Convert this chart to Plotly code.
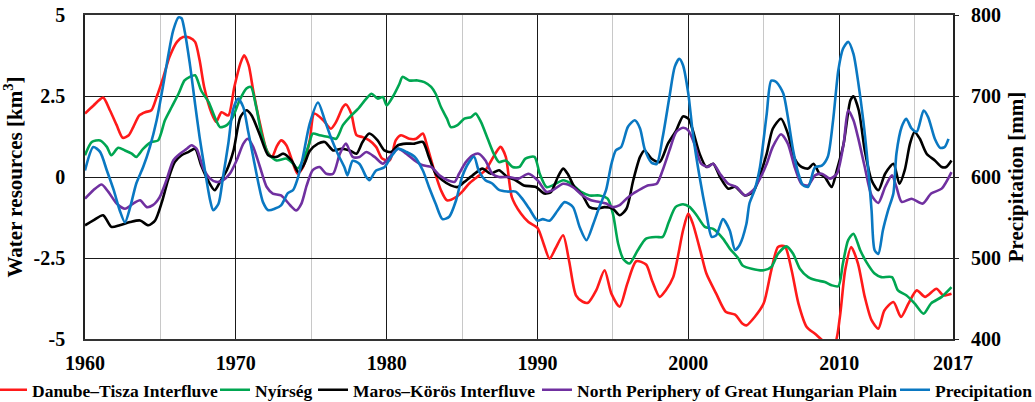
import plotly.graph_objects as go

# ---------------- data ----------------
dt_years = [1960.0, 1960.55, 1961.2, 1961.65, 1962.1, 1962.5, 1962.9, 1963.2, 1963.6, 1964.0, 1964.4, 1964.75,
            1965.2, 1965.6, 1966.1, 1966.5, 1966.95, 1967.3, 1967.6, 1967.9, 1968.4, 1968.7, 1969.05, 1969.5,
            1969.9, 1970.3, 1970.55, 1970.85, 1971.15, 1971.6, 1972.05, 1972.4, 1972.7, 1973.0, 1973.35, 1973.8,
            1974.1, 1974.45, 1974.9, 1975.2, 1975.8, 1976.3, 1976.65, 1977.1, 1977.3, 1977.65, 1978.0, 1978.4,
            1978.85, 1979.3, 1979.7, 1980.2, 1980.6, 1980.95, 1981.5, 1981.95, 1982.4, 1982.7, 1983.15, 1983.6,
            1984.0, 1984.6, 1985.0, 1985.45, 1986.0, 1986.55, 1987.2, 1987.55, 1987.9, 1988.3, 1988.9, 1989.4,
            1990.0, 1990.4, 1990.8, 1991.2, 1991.7, 1992.1, 1992.55, 1993.0, 1993.35, 1993.9, 1994.45, 1994.9,
            1995.45, 1995.95, 1996.55, 1997.2, 1997.6, 1998.1, 1998.5, 1999.0, 1999.65, 2000.0, 2000.3, 2000.85,
            2001.2, 2001.85, 2002.5, 2003.1, 2003.6, 2003.85, 2004.4, 2005.0, 2005.5, 2005.95, 2006.4, 2006.85,
            2007.3, 2007.85, 2008.4, 2009.05, 2009.7, 2010.05, 2010.4, 2010.8, 2011.25, 2011.7, 2012.15, 2012.6,
            2013.0, 2013.6, 2014.1, 2014.6, 2015.15, 2015.7, 2016.45, 2016.9, 2017.45]
dt_values = [1.96, 2.2, 2.45, 2.06, 1.6, 1.21, 1.29, 1.54, 1.9, 2.0, 2.06, 2.47,
             3.09, 3.7, 4.17, 4.32, 4.3, 4.17, 3.6, 2.78, 1.96, 1.7, 2.0, 1.9,
             2.78, 3.5, 3.76, 3.45, 2.68, 1.65, 0.82, 0.62, 0.93, 1.13, 0.98, 0.41,
             0.1, 0.3, 1.13, 1.96, 1.75, 1.49, 1.7, 2.16, 2.24, 1.96, 1.29, 1.23,
             1.13, 0.93, 0.57, 0.51, 1.13, 1.29, 1.18, 1.18, 1.34, 0.93, 0.21, -0.41,
             -0.72, -0.62, -0.46, -0.21, 0.0, 0.21, 0.72, 0.93, 0.62, -0.62, -1.13, -1.39,
             -1.57, -2.05, -2.52, -2.2, -1.8, -2.6, -3.65, -3.85, -3.88, -3.49, -2.88, -3.6,
             -4.0, -3.3, -2.6, -2.7, -3.2, -3.7, -3.5, -3.09, -1.65, -1.13, -1.44, -2.37,
             -2.98, -3.6, -4.17, -4.25, -4.53, -4.58, -4.32, -3.9, -2.88, -2.16, -2.14, -2.88,
             -3.9, -4.63, -4.84, -5.09, -5.14, -4.32, -2.88, -2.16, -2.67, -3.7, -4.42, -4.68,
             -4.12, -3.86, -4.32, -3.9, -3.5, -3.7, -3.45, -3.65, -3.6]

ny_years = [1960.0, 1960.45, 1961.0, 1961.45, 1961.75, 1962.2, 1962.65, 1963.1, 1963.4, 1963.85, 1964.4, 1964.85,
            1965.3, 1965.75, 1966.2, 1966.6, 1966.95, 1967.3, 1967.7, 1968.2, 1968.6, 1968.95, 1969.4, 1969.8,
            1970.25, 1970.7, 1971.0, 1971.35, 1971.7, 1972.15, 1972.7, 1973.35, 1973.8, 1974.1, 1974.55, 1974.85,
            1975.1, 1975.55, 1976.2, 1976.65, 1977.1, 1977.55, 1978.1, 1978.65, 1979.0, 1979.4, 1979.75, 1980.0,
            1980.4, 1980.85, 1981.05, 1981.5, 1982.05, 1982.5, 1982.95, 1983.25, 1983.6, 1984.0, 1984.25, 1984.7,
            1985.15, 1985.6, 1985.9, 1986.25, 1986.7, 1987.1, 1987.45, 1987.9, 1988.35, 1988.8, 1989.2, 1989.8,
            1990.15, 1990.6, 1991.0, 1991.7, 1992.25, 1992.9, 1993.45, 1994.1, 1994.65, 1995.0, 1995.35, 1995.7,
            1996.1, 1996.65, 1997.2, 1997.9, 1998.3, 1998.7, 1999.15, 1999.65, 2000.1, 2000.55, 2001.1, 2001.65,
            2002.3, 2002.75, 2003.3, 2003.6, 2004.2, 2005.0, 2005.5, 2005.95, 2006.5, 2006.95, 2007.4, 2007.95,
            2008.5, 2009.05, 2009.5, 2009.95, 2010.25, 2010.6, 2010.95, 2011.4, 2011.8, 2012.35, 2012.8, 2013.5,
            2013.9, 2014.45, 2015.0, 2015.6, 2016.1, 2016.8, 2017.45]
ny_values = [0.67, 1.08, 1.13, 0.93, 0.67, 0.9, 0.82, 0.72, 0.62, 0.87, 1.08, 1.13,
             1.75, 2.16, 2.57, 2.98, 3.09, 3.14, 2.67, 2.31, 1.85, 1.54, 1.6, 1.85,
             2.37, 2.73, 2.78, 2.16, 1.34, 0.72, 0.51, 0.57, 0.41, 0.26, 0.62, 1.0,
             1.34, 1.29, 1.23, 1.18, 1.6, 1.85, 2.1, 2.42, 2.57, 2.42, 2.47, 2.21,
             2.47, 2.88, 3.09, 2.98, 2.98, 2.93, 2.78, 2.57, 2.16, 1.8, 1.54, 1.6,
             1.8, 1.85, 1.96, 1.7, 1.18, 0.72, 0.46, 0.51, 0.31, 0.31, 0.57, 0.62,
             0.1, -0.31, -0.26, -0.1, -0.21, -0.46, -0.57, -0.57, -0.67, -1.13, -2.06, -2.54,
             -2.67, -2.26, -1.9, -1.85, -1.85, -1.4, -0.93, -0.84, -0.93, -1.18, -1.54, -1.6,
             -1.9, -2.21, -2.5, -2.73, -2.83, -2.88, -2.78, -2.37, -2.14, -2.37, -2.83, -3.09,
             -3.19, -3.24, -3.34, -3.37, -2.67, -1.95, -1.75, -2.26, -2.62, -2.98, -3.09, -3.09,
             -3.5, -3.65, -3.9, -4.22, -3.9, -3.7, -3.4]

mk_years = [1960.0, 1960.55, 1961.2, 1961.75, 1962.3, 1963.0, 1963.65, 1964.2, 1964.65, 1965.1, 1965.5, 1965.95,
            1966.4, 1966.85, 1967.3, 1967.7, 1968.15, 1968.6, 1968.95, 1969.4, 1969.85, 1970.3, 1970.7, 1971.05,
            1971.6, 1972.15, 1972.7, 1973.15, 1973.7, 1974.15, 1974.55, 1974.9, 1975.45, 1975.9, 1976.45, 1977.0,
            1977.55, 1978.0, 1978.4, 1978.85, 1979.4, 1979.85, 1980.3, 1980.75, 1981.3, 1981.85, 1982.4, 1982.8,
            1983.25, 1983.7, 1984.25, 1984.7, 1985.15, 1985.7, 1986.35, 1986.9, 1987.45, 1988.0, 1988.55, 1989.1,
            1989.9, 1990.45, 1990.9, 1991.35, 1991.7, 1992.0, 1992.45, 1993.0, 1993.45, 1993.9, 1994.45, 1995.0,
            1995.45, 1995.9, 1996.35, 1996.8, 1997.1, 1997.55, 1998.1, 1998.65, 1999.2, 1999.65, 2000.0, 2000.3,
            2000.75, 2001.2, 2001.65, 2002.1, 2002.65, 2003.1, 2003.75, 2004.3, 2004.75, 2005.2, 2005.6, 2006.15,
            2006.6, 2007.05, 2007.5, 2007.95, 2008.3, 2008.7, 2009.05, 2009.5, 2009.85, 2010.3, 2010.75, 2010.95,
            2011.3, 2011.7, 2012.15, 2012.6, 2013.05, 2013.6, 2014.0, 2014.35, 2014.7, 2015.0, 2015.35, 2015.8,
            2016.35, 2016.8, 2017.1, 2017.45]
mk_values = [-1.49, -1.34, -1.18, -1.54, -1.49, -1.39, -1.34, -1.49, -1.34, -0.77, -0.1, 0.46,
             0.67, 0.77, 0.87, 0.36, -0.1, -0.41, -0.15, 0.21, 0.82, 1.85, 2.06, 1.9,
             1.29, 0.67, 0.62, 0.72, 0.51, 0.15, 0.41, 0.8, 1.03, 1.08, 0.82, 0.87,
             0.82, 0.72, 1.08, 1.34, 1.13, 0.82, 0.77, 0.98, 1.03, 1.03, 1.08, 0.62,
             0.1, -0.1, -0.26, -0.31, -0.15, 0.05, 0.26, 0.1, 0.21, 0.0, -0.1, -0.26,
             -0.31, -0.51, -0.46, 0.0, 0.26, 0.1, -0.31, -0.57, -0.93, -0.98, -0.93, -0.98,
             -1.18, -0.98, -0.1, 0.62, 0.82, 0.57, 0.46, 1.03, 1.44, 1.87, 1.8, 1.44,
             0.72, 0.31, 0.41, 0.0, -0.36, -0.3, -0.57, -0.46, 0.05, 0.72, 1.49, 1.8,
             1.34, 0.57, 0.31, 0.26, 0.41, 0.1, 0.0, -0.31, 0.21, 1.03, 2.37, 2.49,
             2.06, 0.82, -0.1, -0.41, 0.1, 0.41, -0.21, 0.21, 1.03, 1.39, 1.18, 0.72,
             0.51, 0.31, 0.31, 0.51]

np_years = [1960.0, 1960.55, 1961.1, 1961.55, 1962.1, 1962.65, 1963.2, 1963.65, 1964.1, 1964.5, 1964.95, 1965.4,
            1965.85, 1966.3, 1966.75, 1967.05, 1967.4, 1967.85, 1968.3, 1968.7, 1969.15, 1969.6, 1970.05, 1970.5,
            1970.8, 1971.15, 1971.6, 1972.05, 1972.45, 1973.0, 1973.6, 1974.0, 1974.35, 1974.7, 1975.1, 1975.55,
            1976.0, 1976.45, 1976.9, 1977.3, 1977.75, 1978.2, 1978.65, 1979.2, 1979.75, 1980.2, 1980.75, 1981.3,
            1981.85, 1982.4, 1982.95, 1983.5, 1984.05, 1984.5, 1984.8, 1985.25, 1985.7, 1986.1, 1986.55, 1987.0,
            1987.45, 1988.1, 1988.75, 1989.4, 1990.0, 1990.6, 1991.0, 1991.7, 1992.35, 1993.0, 1993.55, 1994.1,
            1994.55, 1995.0, 1995.45, 1995.9, 1996.35, 1996.9, 1997.3, 1997.9, 1998.3, 1998.75, 1999.2, 1999.65,
            2000.0, 2000.4, 2000.85, 2001.3, 2001.65, 2002.1, 2002.65, 2003.2, 2003.75, 2004.3, 2004.75, 2005.2,
            2005.6, 2006.15, 2006.6, 2007.05, 2007.5, 2007.95, 2008.4, 2008.85, 2009.4, 2009.85, 2010.3, 2010.6,
            2010.95, 2011.25, 2011.7, 2012.15, 2012.6, 2013.05, 2013.5, 2013.8, 2014.15, 2014.8, 2015.55, 2016.1,
            2016.8, 2017.45]
np_values = [-0.67, -0.41, -0.23, -0.46, -0.82, -0.98, -0.82, -0.72, -0.93, -0.87, -0.62, -0.1,
             0.51, 0.72, 0.87, 0.98, 0.87, 0.26, -0.05, -0.15, -0.1, 0.1, 0.51, 1.03,
             1.18, 0.93, 0.31, -0.31, -0.51, -0.57, -0.87, -1.03, -0.82, -0.26, 0.21, 0.31,
             0.1, 0.1, 0.72, 1.03, 0.62, 0.62, 0.77, 0.62, 0.41, 0.62, 0.87, 0.72,
             0.51, 0.36, 0.31, 0.05, -0.1, -0.15, 0.1, 0.46, 0.67, 0.72, 0.51, 0.1,
             0.0, 0.0, -0.05, 0.1, -0.1, -0.46, -0.41, -0.21, -0.31, -0.57, -0.72, -0.77,
             -0.82, -0.93, -0.87, -0.67, -0.51, -0.36, -0.26, -0.21, 0.21, 0.82, 1.39, 1.52,
             1.44, 1.03, 0.41, 0.31, 0.41, 0.1, -0.21, -0.31, -0.57, -0.41, -0.05, 0.41,
             0.93, 1.32, 1.03, 0.31, -0.21, -0.26, 0.05, 0.1, -0.05, 0.1, 1.03, 2.06,
             1.75, 1.23, 0.31, -0.57, -0.8, -0.31, 0.05, -0.31, -0.77, -0.67, -0.82, -0.51,
             -0.36, 0.15]

pr_years = [1960.0, 1960.55, 1961.0, 1961.45, 1961.9, 1962.3, 1962.65, 1963.0, 1963.4, 1963.85, 1964.3, 1964.75,
            1965.2, 1965.5, 1965.85, 1966.2, 1966.4, 1966.6, 1966.95, 1967.3, 1967.6, 1967.95, 1968.3, 1968.5,
            1968.85, 1969.15, 1969.5, 1969.8, 1970.15, 1970.5, 1970.8, 1971.15, 1971.5, 1971.8, 1972.15, 1972.6,
            1973.0, 1973.45, 1973.8, 1974.1, 1974.45, 1974.9, 1975.45, 1975.9, 1976.3, 1976.75, 1977.2, 1977.4,
            1977.75, 1978.2, 1978.65, 1978.85, 1979.3, 1979.85, 1980.3, 1980.75, 1981.3, 1981.85, 1982.4, 1982.8,
            1983.25, 1983.7, 1984.15, 1984.6, 1985.0, 1985.45, 1985.8, 1986.1, 1986.55, 1987.0, 1987.45, 1988.0,
            1988.55, 1989.0, 1989.45, 1990.0, 1990.35, 1990.8, 1991.35, 1991.8, 1992.35, 1992.8, 1993.25, 1993.7,
            1994.1, 1994.55, 1994.9, 1995.2, 1995.55, 1996.0, 1996.45, 1996.8, 1997.1, 1997.55, 1997.9, 1998.3,
            1998.75, 1999.1, 1999.4, 1999.65, 2000.0, 2000.3, 2000.75, 2001.2, 2001.55, 2001.85, 2002.3, 2002.75,
            2003.1, 2003.4, 2003.85, 2004.05, 2004.4, 2004.75, 2005.2, 2005.5, 2005.85, 2006.3, 2006.6, 2006.95,
            2007.3, 2007.6, 2007.95, 2008.4, 2008.85, 2009.25, 2009.6, 2009.95, 2010.25, 2010.6, 2010.95, 2011.25,
            2011.6, 2011.9, 2012.15, 2012.35, 2012.6, 2012.9, 2013.25, 2013.6, 2013.8, 2014.15, 2014.45, 2014.8,
            2015.15, 2015.6, 2015.9, 2016.35, 2016.7, 2017.0, 2017.25]
pr_values = [608, 637, 631, 608, 584, 559, 544, 563, 592, 612, 637, 670,
             715, 748, 781, 797, 796, 781, 740, 690, 649, 608, 571, 559,
             567, 600, 641, 682, 697, 686, 658, 625, 592, 569, 559, 561,
             565, 580, 584, 598, 625, 666, 692, 670, 649, 629, 612, 602,
             620, 616, 600, 596, 608, 612, 625, 635, 631, 625, 608, 588,
             567, 548, 551, 571, 600, 618, 625, 608, 596, 592, 584, 582,
             582, 573, 561, 546, 548, 546, 559, 569, 563, 538, 522, 542,
             563, 584, 616, 633, 637, 662, 670, 660, 635, 618, 616, 649,
             699, 736, 746, 738, 703, 654, 600, 555, 526, 528, 548, 534,
             510, 516, 542, 567, 584, 612, 678, 719, 717, 703, 674, 633,
             604, 590, 588, 612, 614, 625, 670, 732, 758, 767, 752, 719,
             670, 616, 559, 510, 505, 534, 559, 580, 629, 662, 672, 660,
             656, 682, 674, 647, 636, 637, 647]

series_names = ["Danube\u2013Tisza Interfluve", "Ny\u00edrs\u00e9g", "Maros\u2013K\u00f6r\u00f6s Interfluve",
                "North Periphery of Great Hungarian Plain", "Precipitation"]
series_colors = ["#ff1a1a", "#00a651", "#000000", "#7030a0", "#0a78c2"]

x_tick_vals = [1960, 1970, 1980, 1990, 2000, 2010, 2017.55]
x_tick_text = ["1960", "1970", "1980", "1990", "2000", "2010", "2017"]
x_minor_vals = [1965, 1975, 1985, 1995, 2005, 2015]
y_tick_vals = [-5, -2.5, 0, 2.5, 5]
y_tick_text = ["-5", "-2.5", "0", "2.5", "5"]
y2_tick_vals = [400, 500, 600, 700, 800]

# ---------------- figure ----------------
FONT = "Liberation Serif"
tick_font = dict(family=FONT, size=20, color="black", weight="bold")
title_font = dict(family=FONT, size=21, color="black", weight="bold")

fig = go.Figure()
data = [(dt_years, dt_values, "y"), (ny_years, ny_values, "y"), (mk_years, mk_values, "y"),
        (np_years, np_values, "y"), (pr_years, pr_values, "y2")]
legend_ids = ["legend", "legend2", "legend3", "legend4", "legend5"]
for (xs, ys, ax), name, col, lg in zip(data, series_names, series_colors, legend_ids):
    fig.add_trace(go.Scatter(x=xs, y=ys, name=name, mode="lines", yaxis=ax, legend=lg,
                             line=dict(color=col, width=2.6, shape="spline", smoothing=0.7)))

legend_font = dict(family=FONT, size=17.5, color="black", weight="bold")
legend_x_px = [-8, 215, 313, 537, 895]
plot_l, plot_w = 85, 868
legends = {}
for lg, px in zip(legend_ids, legend_x_px):
    legends[lg] = dict(orientation="h", x=(px - plot_l) / plot_w, xanchor="left",
                       y=-0.157, yanchor="middle", font=legend_font,
                       bgcolor="rgba(0,0,0,0)", itemwidth=30, borderwidth=0)

fig.update_layout(
    width=1035, height=402,
    margin=dict(l=85, r=82, t=15, b=63, autoexpand=False),
    paper_bgcolor="white", plot_bgcolor="white",
    showlegend=True,
    xaxis=dict(range=[1960, 2017.55], tickmode="array", tickvals=x_tick_vals, ticktext=x_tick_text,
               showgrid=True, gridcolor="#1a1a1a", gridwidth=1,
               minor=dict(tickmode="array", tickvals=x_minor_vals, showgrid=True,
                          gridcolor="#c8c8c8", gridwidth=1, ticks=""),
               showline=True, linecolor="#333333", linewidth=1.5, mirror=True,
               ticks="", tickfont=tick_font, ticklabelstandoff=5, zeroline=False),
    yaxis=dict(range=[-5, 5], tickmode="array", tickvals=y_tick_vals, ticktext=y_tick_text,
               showgrid=True, gridcolor="#1a1a1a", gridwidth=1, zeroline=False,
               showline=True, linecolor="#222222", linewidth=1.5, mirror=True,
               ticks="", tickfont=tick_font, ticklabelstandoff=14,
               title=dict(text="Water resources [km<sup>3</sup>]", font=title_font, standoff=6)),
    yaxis2=dict(range=[400, 800], tickmode="array", tickvals=y2_tick_vals, overlaying="y", side="right",
                showgrid=False, zeroline=False, showline=False,
                ticks="outside", ticklen=5, tickcolor="#222222", tickwidth=1.2,
                tickfont=tick_font, ticklabelstandoff=8,
                title=dict(text="Precipitation [mm]", font=title_font, standoff=8)),
    **legends,
)

fig.write_html("out.html", config={"displayModeBar": False},
               post_script="document.body.style.margin='0';document.body.style.overflow='hidden';")
